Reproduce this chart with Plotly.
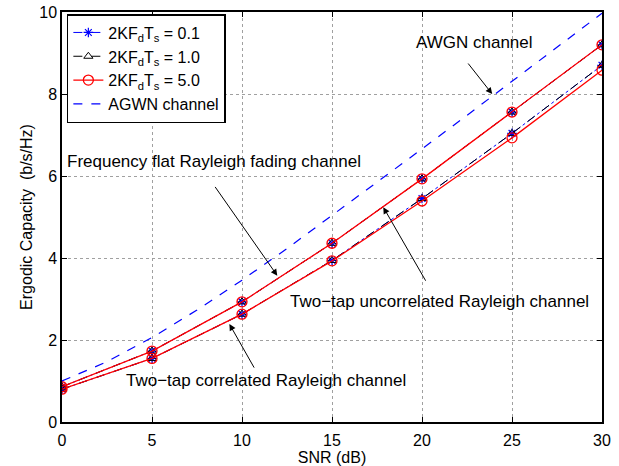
import plotly.graph_objects as go

snr = [0, 5, 10, 15, 20, 25, 30]

# upper curves (all three Doppler values coincide)
upper_01 = [0.86, 1.73, 2.93, 4.36, 5.93, 7.56, 9.20]
upper_10 = [0.86, 1.73, 2.93, 4.36, 5.93, 7.56, 9.20]
upper_50 = [0.86, 1.73, 2.93, 4.36, 5.93, 7.56, 9.20]
# lower curves
lower_01 = [0.80, 1.55, 2.63, 3.94, 5.45, 7.04, 8.70]
lower_10 = [0.80, 1.55, 2.63, 3.94, 5.45, 7.04, 8.70]
lower_50 = [0.80, 1.55, 2.63, 3.93, 5.39, 6.93, 8.58]

awgn_snr = [0, 2.5, 5, 7.5, 10, 12.5, 15, 17.5, 20, 22.5, 25, 27.5, 30]
awgn_cap = [1.00, 1.47, 2.06, 2.73, 3.46, 4.23, 5.04, 5.84, 6.66, 7.48, 8.31, 9.14, 9.97]

labels = ["2KF<sub>d</sub>T<sub>s</sub> = 0.1",
          "2KF<sub>d</sub>T<sub>s</sub> = 1.0",
          "2KF<sub>d</sub>T<sub>s</sub> = 5.0",
          "AGWN channel"]

x_ticks = [0, 5, 10, 15, 20, 25, 30]
y_ticks = [0, 2, 4, 6, 8, 10]

FONT = "Liberation Sans, Arial, Helvetica, sans-serif"

fig = go.Figure()

def two(a, b):
    return snr + [None] + snr, a + [None] + b

x, y = two(upper_01, lower_01)
fig.add_trace(go.Scatter(x=x, y=y, name=labels[0], mode="lines+markers",
                         line=dict(color="blue", dash="dashdot", width=1),
                         marker=dict(symbol="asterisk-open", size=8, color="blue",
                                     line=dict(color="blue", width=1.2))))
x, y = two(upper_10, lower_10)
fig.add_trace(go.Scatter(x=x, y=y, name=labels[1], mode="lines+markers",
                         line=dict(color="black", dash="dash", width=1),
                         marker=dict(symbol="triangle-up-open", size=8, color="black",
                                     line=dict(color="black", width=1))))
x, y = two(upper_50, lower_50)
fig.add_trace(go.Scatter(x=x, y=y, name=labels[2], mode="lines+markers",
                         line=dict(color="red", width=1.3),
                         marker=dict(symbol="circle-open", size=10, color="red",
                                     line=dict(color="red", width=1.3))))
fig.add_trace(go.Scatter(x=awgn_snr, y=awgn_cap, name=labels[3], mode="lines",
                         line=dict(color="blue", dash="dash", width=1.2)))

ann_font = dict(family=FONT, size=17, color="black")

def arrow(x0, y0, x1, y1):
    # start (x0,y0) -> head (x1,y1), given in data coords
    fig.add_annotation(x=x1, y=y1, ax=x0, ay=y0, xref="x", yref="y",
                       axref="x", ayref="y", text="", showarrow=True,
                       arrowhead=2, arrowsize=1.3, arrowwidth=1, arrowcolor="black")

fig.add_annotation(x=22.9, y=9.25, text="AWGN channel", showarrow=False, font=ann_font)
arrow(22.5, 8.78, 23.9, 8.0)
fig.add_annotation(x=8.45, y=6.35, text="Frequency flat Rayleigh fading channel",
                   showarrow=False, font=ann_font)
arrow(8.45, 5.77, 11.96, 3.57)
fig.add_annotation(x=20.95, y=2.93, text="Two\u2212tap uncorrelated Rayleigh channel",
                   showarrow=False, font=ann_font)
arrow(20.25, 3.41, 17.85, 5.24)
fig.add_annotation(x=11.36, y=1.02, text="Two\u2212tap correlated Rayleigh channel",
                   showarrow=False, font=ann_font)
arrow(10.72, 1.29, 9.3, 2.39)

axis_common = dict(showline=True, linecolor="black", linewidth=1.5, mirror="ticks",
                   ticks="inside", ticklen=5, tickcolor="black",
                   showgrid=True, gridcolor="#a0a0a0", griddash="dot", gridwidth=1,
                   zeroline=False, automargin=False,
                   tickfont=dict(family=FONT, size=16, color="black"))

fig.update_xaxes(range=[0, 30], tickvals=x_ticks, ticklabelstandoff=3,
                 title=dict(text="SNR (dB)", font=dict(family=FONT, size=16, color="black"),
                            standoff=6),
                 **axis_common)
fig.update_yaxes(range=[0, 10], tickvals=y_ticks,
                 title=dict(text="Ergodic Capacity  (b/s/Hz)",
                            font=dict(family=FONT, size=16, color="black"), standoff=3),
                 **axis_common)

fig.update_layout(
    width=619, height=466,
    margin=dict(l=62, r=17, t=12, b=44),
    plot_bgcolor="white", paper_bgcolor="white",
    font=dict(family=FONT, size=16, color="black"),
    legend=dict(x=0.009, y=0.995, xanchor="left", yanchor="top",
                bgcolor="white", bordercolor="black", borderwidth=1.5,
                font=dict(family=FONT, size=16, color="black"),
                tracegroupgap=0, itemwidth=30),
    showlegend=True,
)

fig.write_html("out.html", config={"displayModeBar": False},
               post_script="document.body.style.margin='0';document.body.style.padding='0';")
